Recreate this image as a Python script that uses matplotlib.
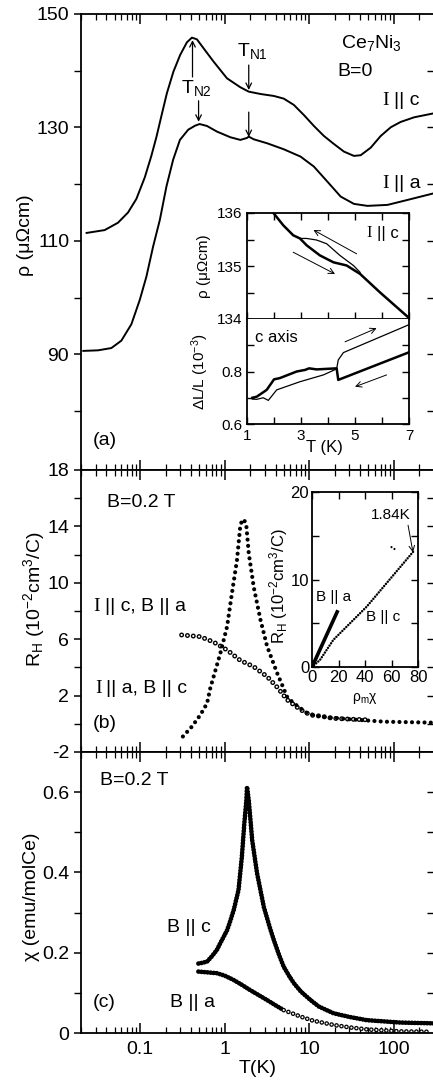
import numpy as np
import matplotlib
matplotlib.use('Agg')
import matplotlib.pyplot as plt
from matplotlib.ticker import FixedLocator, FuncFormatter, NullFormatter, LogLocator

plt.rcParams['font.family'] = ['Liberation Sans', 'DejaVu Sans']
plt.rcParams['mathtext.fontset'] = 'custom'
plt.rcParams['mathtext.rm'] = 'Liberation Sans'
plt.rcParams['mathtext.it'] = 'Liberation Sans:italic'
plt.rcParams['mathtext.default'] = 'regular'
plt.rcParams['lines.scale_dashes'] = False
plt.rcParams['axes.linewidth'] = 1.3
plt.rcParams['axes.unicode_minus'] = False

# (a) resistivity, B=0
rhoC_T = [0.0233, 0.0381, 0.0548, 0.072, 0.0904, 0.1137, 0.136, 0.156, 0.176, 0.2072, 0.248, 0.298,
          0.358, 0.410, 0.470, 0.564, 0.741, 1.067, 1.536, 1.93, 2.65, 3.82, 5.01, 6.59, 8.65, 11.38,
          14.94, 19.6, 25.8, 33.9, 40.7, 53.5, 70.3, 92.4, 121, 175, 301]
rhoC = [111.4, 111.9, 113.2, 115.0, 117.4, 121.2, 125.0, 128.3, 131.6, 136.0, 139.84, 142.78,
        145.01, 145.83, 145.54, 143.95, 141.6, 138.66, 137.08, 136.31, 135.90, 135.55, 135.08, 133.97,
        132.20, 130.26, 128.50, 127.09, 125.74, 124.98, 125.10, 126.43, 128.50, 130.03, 130.97, 131.79, 132.50]
rhoA_T = [0.0213, 0.0318, 0.0457, 0.060, 0.0789, 0.0992, 0.1188, 0.1426, 0.1713, 0.2051, 0.246, 0.296,
          0.371, 0.446, 0.506, 0.618, 0.811, 1.169, 1.536, 1.842, 1.93, 2.21, 3.18, 5.01, 7.91,
          11.38, 16.4, 23.6, 33.9, 48.9, 84.4, 146, 301]
rhoA = [90.6, 90.7, 91.1, 92.4, 95.3, 99.6, 103.7, 109.0, 113.7, 119.6, 124.3, 127.8,
        129.6, 130.3, 130.6, 130.26, 129.27, 128.27, 127.80, 128.15, 128.38, 127.91, 127.21,
        126.15, 124.86, 123.10, 120.46, 117.81, 116.52, 116.17, 116.34, 117.22, 118.4]

# inset (a) top: rho hysteresis near T_N1
insCool_T = [1.9, 1.98, 2.34, 2.71, 2.96, 3.21, 3.7, 4.2, 4.69, 5.19, 5.93, 6.91, 7.04]
insCool = [136.1, 136.0, 135.77, 135.58, 135.52, 135.39, 135.2, 135.07, 135.01, 134.85, 134.5, 134.06, 134.0]
insWarm_T = [2.96, 3.21, 3.58, 3.95, 4.44, 4.94, 5.19]
insWarm = [135.52, 135.52, 135.49, 135.42, 135.2, 135.01, 134.88]

# inset (a) bottom: thermal expansion, c axis
dlCool_T = [6.97, 4.38, 4.32, 3.58, 3.3, 3.15, 2.84, 2.22, 2.0, 1.73, 1.36, 1.2]
dlCool = [0.872, 0.768, 0.812, 0.808, 0.812, 0.806, 0.80, 0.775, 0.77, 0.73, 0.704, 0.70]
dlWarm_T = [1.2, 1.36, 1.6, 1.79, 2.1, 2.96, 3.83, 4.32, 4.38, 4.57, 6.97]
dlWarm = [0.695, 0.694, 0.70, 0.69, 0.73, 0.761, 0.787, 0.81, 0.844, 0.872, 0.977]

# (b) Hall coefficient, B=0.2 T
rhFill_T = [0.321, 0.41, 0.515, 0.62, 0.675, 0.89, 1.07, 1.22, 1.40, 1.53, 1.6, 1.66, 1.72, 1.81,
            1.93, 2.21, 2.65, 3.18, 4.18, 5.5, 6.6, 9.5, 13.6, 30.6, 77, 300]
rhFill = [-0.9, -0.2, 0.62, 1.45, 2.5, 5.0, 6.9, 9.25, 11.6, 14.0, 14.4, 14.5, 14.4, 14.0,
          12.1, 9.7, 7.4, 5.5, 3.6, 1.9, 1.45, 0.75, 0.5, 0.32, 0.15, 0.08]
rhOpen_T = [0.31, 0.515, 0.74, 1.07, 1.53, 2.21, 3.18, 4.18, 5.5, 7.9, 10.4, 13.6, 19, 33, 50]
rhOpen = [6.3, 6.18, 5.8, 5.23, 4.5, 4.05, 3.35, 2.6, 1.7, 1.0, 0.62, 0.55, 0.39, 0.32, 0.28]

# inset (b): R_H vs rho_m chi
rxA = [0, 19]
rxA_R = [0, 6.3]
rxC = [0, 6, 16.1, 41.3, 76.5]
rxC_R = [0, 0.8, 3.1, 6.9, 13.2]
rxExtra = [60, 62, 64]
rxExtra_R = [13.7, 13.5, 13.4]

# (c) susceptibility, B=0.2 T
chiC_T = [0.49, 0.55, 0.62, 0.7, 0.81, 0.9, 1.07, 1.15, 1.28, 1.46, 1.60, 1.71, 1.81, 1.84, 1.93,
          2.12, 2.42, 2.91, 3.4, 3.83, 4.4, 5.0, 5.8, 6.6, 8.0, 10.4, 13, 19.5, 30, 48, 120, 300]
chiC = [0.173, 0.175, 0.178, 0.19, 0.207, 0.226, 0.256, 0.275, 0.306, 0.356, 0.439, 0.522, 0.58, 0.613, 0.58,
        0.48, 0.398, 0.314, 0.265, 0.231, 0.195, 0.165, 0.142, 0.124, 0.103, 0.082, 0.066, 0.049, 0.040,
        0.032, 0.026, 0.024]
chiA_T = [0.49, 0.81, 1.0, 1.28, 1.6, 2.0, 2.5, 3.18, 4.0, 5, 7.9, 11, 19.5, 30, 48, 120, 270]
chiA = [0.153, 0.149, 0.143, 0.132, 0.12, 0.107, 0.095, 0.082, 0.069, 0.057, 0.041, 0.031, 0.02,
        0.014, 0.009, 0.004, 0.003]

W, H = 433.0, 1087.0


def box(left, top, right, bottom):
    return [left / W, 1 - bottom / H, (right - left) / W, (bottom - top) / H]


def dots(ax, x, y, lw=3.0, gap=4.0):
    ax.plot(x, y, color='k', lw=lw, ls=(0, (0.01, gap)), dash_capstyle='round')


def rings(ax, x, y, lw=3.6, gap=4.2):
    ax.plot(x, y, color='k', lw=lw, ls=(0, (0.01, gap)), dash_capstyle='round')
    ax.plot(x, y, color='w', lw=lw * 0.45, ls=(0, (0.01, gap)), dash_capstyle='round')


def iLabel(ax, x, y, rest, fs=14):
    ax.annotate('I', (x, y), fontfamily='Liberation Serif', fontsize=fs, va='center', ha='left')
    ax.annotate(rest, (x, y), xytext=(fs * 0.6, 0), textcoords='offset points',
                va='center', ha='left', fontsize=fs)


def rightTicks(ax, major, minor):
    sec = ax.secondary_yaxis('right')
    sec.yaxis.set_major_locator(FixedLocator(major))
    sec.yaxis.set_minor_locator(FixedLocator(minor))
    sec.tick_params(which='both', direction='in', length=5, width=1.0, labelright=False)


fig = plt.figure(figsize=(W / 100, H / 100), dpi=100)
axA = fig.add_axes(box(81, 14, 434, 470))
axB = fig.add_axes(box(81, 470, 434, 752))
axC = fig.add_axes(box(81, 752, 434, 1033))

for ax in [axA, axB, axC]:
    ax.set_xscale('log')
    ax.set_xlim(0.02, 300)
    ax.xaxis.set_major_locator(LogLocator(base=10, numticks=10))
    ax.xaxis.set_minor_locator(LogLocator(base=10, subs=np.arange(2, 10), numticks=20))
    ax.xaxis.set_minor_formatter(NullFormatter())
    ax.xaxis.set_major_formatter(FuncFormatter(lambda v, p: '%g' % v))
    ax.tick_params(axis='x', which='both', direction='in', top=True, bottom=True, labelsize=14, pad=6)
    ax.tick_params(axis='x', which='major', length=7, width=1.1)
    ax.tick_params(axis='x', which='minor', length=4, width=0.9)
    ax.tick_params(axis='y', which='both', direction='out', left=True, right=False)
    ax.tick_params(axis='y', which='major', length=5, width=1.1, labelsize=14)
    ax.tick_params(axis='y', which='minor', length=5, width=1.0)
axA.tick_params(axis='x', labelbottom=False)
axB.tick_params(axis='x', labelbottom=False)

# panel (a)
axA.plot(rhoC_T, rhoC, color='k', lw=1.4)
axA.plot(rhoA_T, rhoA, color='k', lw=1.4)
axA.set_ylim(69.6, 150)
axA.yaxis.set_major_locator(FixedLocator([90, 110, 130, 150]))
axA.yaxis.set_minor_locator(FixedLocator([80, 100, 120, 140]))
rightTicks(axA, [90, 110, 130], [80, 100, 120, 140])
axA.set_ylabel('ρ (μΩcm)', fontsize=14)
axA.yaxis.set_label_coords(-0.134, 0.515)
arw = dict(arrowstyle='->', lw=0.9, color='k', shrinkA=0, shrinkB=0)
axA.annotate('', xy=(0.417, 145.4), xytext=(0.417, 138.9), arrowprops=arw)
axA.annotate('', xy=(0.492, 131.0), xytext=(0.492, 134.7), arrowprops=arw)
axA.annotate('', xy=(1.93, 136.6), xytext=(1.93, 141.0), arrowprops=arw)
axA.annotate('', xy=(1.93, 128.3), xytext=(1.93, 132.7), arrowprops=arw)
axA.text(0.47, 136.9, r'T$_{N2}$', fontsize=14, ha='center', va='center')
axA.text(2.13, 143.5, r'T$_{N1}$', fontsize=14, ha='center', va='center')
axA.text(55, 144.9, r'Ce$_7$Ni$_3$', fontsize=14, ha='center', va='center')
axA.text(21.5, 139.8, 'B=0', fontsize=14, ha='left', va='center')
iLabel(axA, 74, 134.8, '|| c')
iLabel(axA, 74, 120.2, '|| a')
axA.text(0.0277, 74.8, '(a)', fontsize=14, ha='left', va='center')

# inset (a) upper
inA1 = fig.add_axes(box(247, 213, 409, 319))
inA1.plot(insCool_T, insCool, color='k', lw=1.8)
inA1.plot(insWarm_T, insWarm, color='k', lw=0.9)
inA1.set_xlim(1, 7)
inA1.set_ylim(134, 136)
inA1.yaxis.set_major_locator(FixedLocator([134, 135, 136]))
inA1.yaxis.set_minor_locator(FixedLocator([134.5, 135.5]))
inA1.xaxis.set_major_locator(FixedLocator([1, 2, 3, 4, 5, 6, 7]))
inA1.tick_params(which='both', direction='in', top=True, right=True, length=5, width=1.0,
                 labelsize=11, labelbottom=False)
inA1.set_ylabel('ρ (μΩcm)', fontsize=11)
inA1.yaxis.set_label_coords(-0.22, 0.5)
arw2 = dict(arrowstyle='->', lw=0.7, color='k', shrinkA=0, shrinkB=0)
inA1.annotate('', xy=(3.46, 135.68), xytext=(5.06, 135.23), arrowprops=arw2)
inA1.annotate('', xy=(4.26, 134.85), xytext=(2.71, 135.26), arrowprops=arw2)
iLabel(inA1, 5.44, 135.62, '|| c', fs=12)

# inset (a) lower
inA2 = fig.add_axes(box(247, 319, 409, 424))
inA2.plot(dlCool_T, dlCool, color='k', lw=1.8)
inA2.plot(dlWarm_T, dlWarm, color='k', lw=0.9)
inA2.set_xlim(1, 7)
inA2.set_ylim(0.6, 1.0)
inA2.yaxis.set_major_locator(FixedLocator([0.6, 0.8]))
inA2.yaxis.set_minor_locator(FixedLocator([0.7, 0.9]))
inA2.yaxis.set_major_formatter(FuncFormatter(lambda v, p: '%.1f' % v))
inA2.xaxis.set_major_locator(FixedLocator([1, 3, 5, 7]))
inA2.xaxis.set_minor_locator(FixedLocator([2, 4, 6]))
inA2.tick_params(which='both', direction='in', top=False, right=True, length=5, width=1.0,
                 labelsize=11)
inA2.spines['top'].set_visible(False)
inA2.set_ylabel(r'ΔL/L (10$^{-3}$)', fontsize=11)
inA2.yaxis.set_label_coords(-0.22, 0.5)
inA2.set_xlabel('T (K)', fontsize=12)
inA2.xaxis.set_label_coords(0.48, -0.15)
inA2.annotate('', xy=(5.80, 0.965), xytext=(4.63, 0.913), arrowprops=arw2)
inA2.annotate('', xy=(5.0, 0.742), xytext=(6.17, 0.787), arrowprops=arw2)
inA2.text(1.3, 0.928, 'c axis', fontsize=12, ha='left', va='center')

# panel (b)
rings(axB, rhOpen_T, rhOpen)
dots(axB, rhFill_T, rhFill, lw=3.0, gap=4.5)
axB.set_ylim(-2, 18)
axB.yaxis.set_major_locator(FixedLocator([-2, 2, 6, 10, 14, 18]))
axB.yaxis.set_minor_locator(FixedLocator([0, 4, 8, 12, 16]))
rightTicks(axB, [2, 6, 10, 14], [0, 4, 8, 12, 16])
axB.set_ylabel(r'R$_H$ (10$^{-2}$cm$^3$/C)', fontsize=14)
axB.yaxis.set_label_coords(-0.097, 0.54)
axB.text(0.0406, 15.7, 'B=0.2 T', fontsize=14, ha='left', va='center')
iLabel(axB, 0.0277, 8.3, '|| c, B || a')
iLabel(axB, 0.0291, 2.5, '|| a, B || c')
axB.text(0.0277, 0.05, '(b)', fontsize=14, ha='left', va='center')

# inset (b)
inB = fig.add_axes(box(312, 492, 418, 667))
inB.plot(rxA, rxA_R, color='k', lw=2.6)
dots(inB, rxC, rxC_R, lw=1.8, gap=2.0)
dots(inB, rxExtra, rxExtra_R, lw=1.6, gap=2.5)
inB.set_xlim(0, 80)
inB.set_ylim(0, 20)
inB.xaxis.set_major_locator(FixedLocator([0, 20, 40, 60, 80]))
inB.yaxis.set_major_locator(FixedLocator([0, 10, 20]))
inB.yaxis.set_minor_locator(FixedLocator([5, 15]))
inB.tick_params(which='both', direction='in', top=True, right=True, length=5, width=1.0,
                labelsize=12, pad=2)
inB.set_ylabel(r'R$_H$ (10$^{-2}$cm$^3$/C)', fontsize=12)
inB.yaxis.set_label_coords(-0.21, 0.46)
inB.set_xlabel(r'ρ$_m$χ', fontsize=10)
inB.xaxis.set_label_coords(0.5, -0.14)
inB.annotate('', xy=(76.2, 13.1), xytext=(72.5, 16.2), arrowprops=arw2)
inB.text(59.6, 17.4, '1.84K', fontsize=11, ha='center', va='center')
inB.text(16, 8.0, 'B || a', fontsize=11, ha='center', va='center')
inB.text(53.6, 5.7, 'B || c', fontsize=11, ha='center', va='center')

# panel (c)
chiA_T = np.array(chiA_T)
chiA = np.array(chiA)
split = 10
dots(axC, chiC_T, chiC, lw=3.4, gap=2.2)
dots(axC, chiA_T[:split], chiA[:split], lw=3.4, gap=2.2)
rings(axC, chiA_T[split - 1:], chiA[split - 1:], lw=3.4, gap=3.6)
axC.set_ylim(0, 0.7)
axC.yaxis.set_major_locator(FixedLocator([0, 0.2, 0.4, 0.6]))
axC.yaxis.set_minor_locator(FixedLocator([0.1, 0.3, 0.5]))
axC.yaxis.set_major_formatter(FuncFormatter(lambda v, p: '%g' % v))
rightTicks(axC, [0.2, 0.4, 0.6], [0.1, 0.3, 0.5])
axC.set_ylabel('χ (emu/molCe)', fontsize=14)
axC.yaxis.set_label_coords(-0.116, 0.484)
axC.set_xlabel('T(K)', fontsize=14, labelpad=1)
axC.text(0.0335, 0.63, 'B=0.2 T', fontsize=14, ha='left', va='center')
axC.text(0.209, 0.264, 'B || c', fontsize=14, ha='left', va='center')
axC.text(0.227, 0.077, 'B || a', fontsize=14, ha='left', va='center')
axC.text(0.0277, 0.075, '(c)', fontsize=14, ha='left', va='center')

fig.savefig('out.png', dpi=100)
